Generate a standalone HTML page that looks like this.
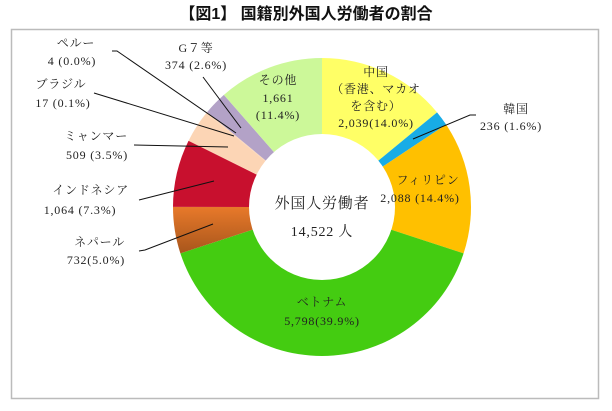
<!DOCTYPE html>
<html><head><meta charset="utf-8"><style>
body{margin:0;background:#fff;width:612px;height:411px;overflow:hidden}
svg{display:block}
text{font-family:"Liberation Serif","Noto Serif CJK SC",serif;font-size:12px;fill:#222;letter-spacing:0.8px}
.t{font-family:"Liberation Sans","Noto Sans CJK JP",sans-serif;font-weight:bold;font-size:16px;fill:#111;letter-spacing:0}
</style></head><body>
<svg width="612" height="411" viewBox="0 0 612 411">
<defs><linearGradient id="np" x1="0" y1="0" x2="0" y2="1"><stop offset="0" stop-color="#e8792a"/><stop offset="1" stop-color="#a8561c"/></linearGradient></defs>
<text class="t" x="306" y="19" text-anchor="middle">【図1】 国籍別外国人労働者の割合</text>
<rect x="11.5" y="29.5" width="587" height="369" fill="#fff" stroke="#bbb" stroke-width="1.5"/>
<g id="pie"></g>
<circle cx="322" cy="207" r="73" fill="#fff"/>
<g stroke="#111" stroke-width="1" fill="none">
<polyline points="112,51 117,51 236,133"/>
<polyline points="94,93 234,136"/>
<polyline points="134,145 228,147"/>
<polyline points="139,200 214,181"/>
<polyline points="139,251 145,250 213,224"/>
<polyline points="203,77 241,128"/>
<polyline points="476,115 470,115 413,139"/>
</g>
<text x="76" y="47" text-anchor="middle">ペルー</text>
<text x="72" y="65" text-anchor="middle">4 (0.0%)</text>
<text x="61" y="88" text-anchor="middle">ブラジル</text>
<text x="63" y="107" text-anchor="middle">17 (0.1%)</text>
<text x="128" y="140" text-anchor="end">ミャンマー</text>
<text x="97" y="159" text-anchor="middle">509 (3.5%)</text>
<text x="129" y="194" text-anchor="end">インドネシア</text>
<text x="80" y="214" text-anchor="middle">1,064 (7.3%)</text>
<text x="125" y="246" text-anchor="end">ネパール</text>
<text x="96" y="264" text-anchor="middle">732(5.0%)</text>
<text x="196" y="52" text-anchor="middle">G７等</text>
<text x="196" y="69" text-anchor="middle">374 (2.6%)</text>
<text x="278" y="84" text-anchor="middle">その他</text>
<text x="278" y="102" text-anchor="middle">1,661</text>
<text x="278" y="119" text-anchor="middle">(11.4%)</text>
<text x="376" y="76" text-anchor="middle">中国</text>
<text x="376" y="93" text-anchor="middle">（香港、マカオ</text>
<text x="376" y="110" text-anchor="middle">を含む）</text>
<text x="376" y="127" text-anchor="middle">2,039(14.0%)</text>
<text x="516" y="113" text-anchor="middle">韓国</text>
<text x="511" y="130" text-anchor="middle">236 (1.6%)</text>
<text x="428" y="184" text-anchor="middle">フィリピン</text>
<text x="420" y="202" text-anchor="middle">2,088 (14.4%)</text>
<text x="322" y="306" text-anchor="middle">ベトナム</text>
<text x="322" y="325" text-anchor="middle">5,798(39.9%)</text>
<text x="322" y="208" text-anchor="middle" style="font-size:15px">外国人労働者</text>
<text x="322" y="236" text-anchor="middle" style="font-size:14px">14,522 人</text>
</svg>
<script>
var d=[[2039,"#ffff66"],[236,"#18ace6"],[2088,"#ffc000"],[5798,"#44cc11"],[732,"url(#np)"],[1064,"#c8102e"],[509,"#fcd5b5"],[17,"#fcd5b5"],[4,"#fcd5b5"],[374,"#b3a2c7"],[1661,"#ccf899"]];
var tot=14522,cx=322,cy=207,r=149,a=0,g=document.getElementById("pie"),s="";
d.forEach(function(e){var b=a+e[0]/tot*2*Math.PI;
var x1=cx+r*Math.sin(a),y1=cy-r*Math.cos(a),x2=cx+r*Math.sin(b),y2=cy-r*Math.cos(b);
s+='<path d="M'+cx+','+cy+'L'+x1+','+y1+'A'+r+','+r+' 0 '+((b-a)>Math.PI?1:0)+' 1 '+x2+','+y2+'Z" fill="'+e[1]+'"/>';a=b;});
g.innerHTML=s;
</script>
</body></html>
